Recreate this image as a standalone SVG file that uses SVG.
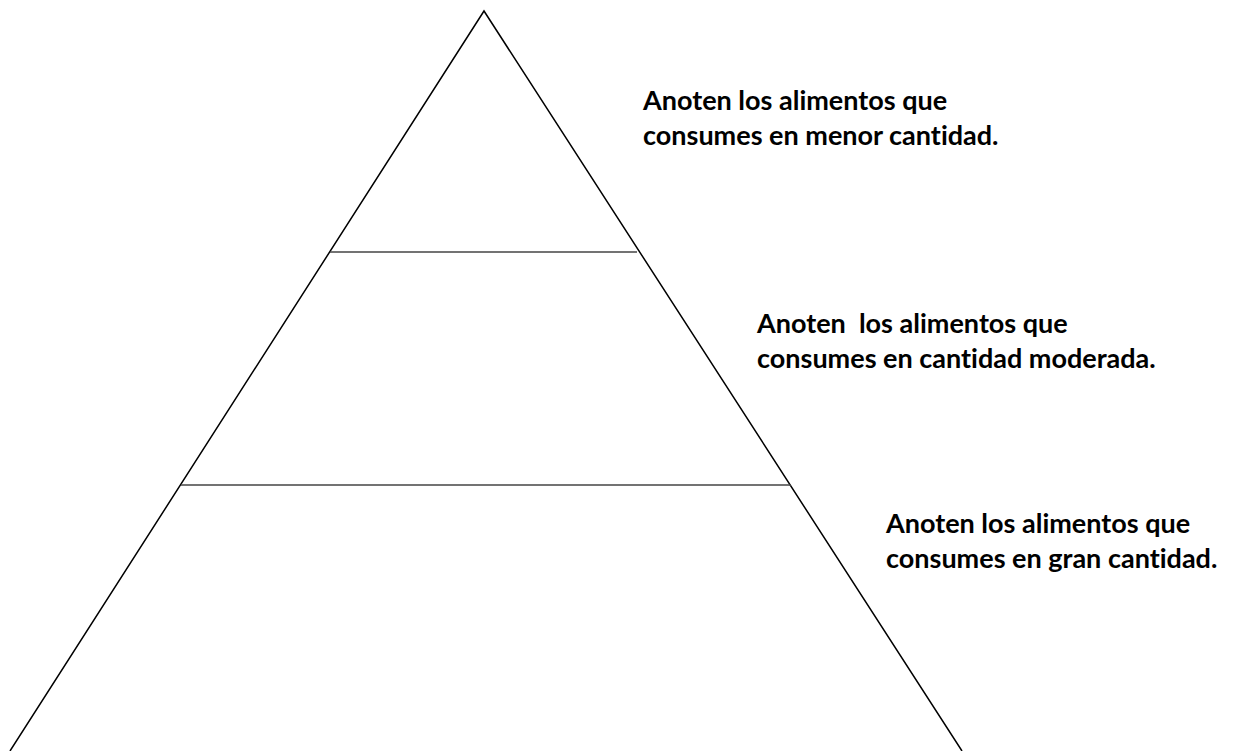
<svg xmlns="http://www.w3.org/2000/svg" width="1234" height="751" viewBox="0 0 1234 751">
<style>
.t{font-family:Lato,"Liberation Sans",sans-serif;font-weight:bold;font-size:27px;fill:#000;font-variant-ligatures:none;font-feature-settings:"liga" 0}
.e{stroke:#000;stroke-width:1.5;fill:none}
.h{stroke:#444;stroke-width:1.3}
</style>
<rect width="1234" height="751" fill="#fff"/>
<g id="pyramid">
<polyline class="e" points="10,751 484,11 962,751"/>
</g>
<g id="connectors">
<line class="h" x1="330" y1="252" x2="637" y2="252"/>
<line class="h" x1="181" y1="485" x2="791" y2="485"/>
</g>
<g id="label-top">
<text class="t" x="643" y="110">Anoten los alimentos que</text>
<text class="t" x="643" y="145">consumes en menor cantidad.</text>
</g>
<g id="label-middle">
<text class="t" x="757" y="333" xml:space="preserve">Anoten  los alimentos que</text>
<text class="t" x="757" y="368">consumes en cantidad moderada.</text>
</g>
<g id="label-bottom">
<text class="t" x="886" y="533">Anoten los alimentos que</text>
<text class="t" x="886" y="568">consumes en gran cantidad.</text>
</g>
</svg>
